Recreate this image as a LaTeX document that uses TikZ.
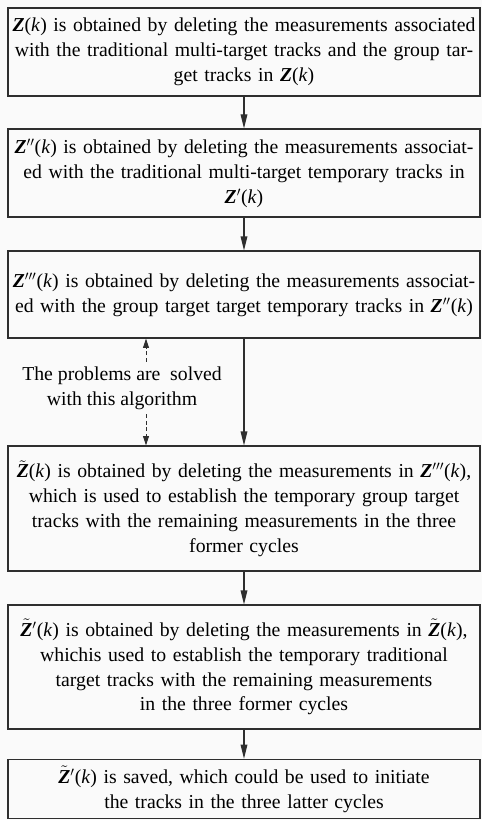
\documentclass[tikz,border=0pt]{standalone}
\usepackage{fontspec}
\setmainfont{Liberation Serif}
\usetikzlibrary{arrows.meta, positioning}
\definecolor{fcline}{HTML}{2E2E2E}
\definecolor{fcpaper}{HTML}{FAFAFA}
\newcommand{\Zb}{\textbf{\textit{Z}}}
\newcommand{\Zt}{\ensuremath{\tilde{\mbox{\Zb}}}}
\newcommand{\kk}{(\textit{k})}

\begin{document}
\begin{tikzpicture}[x=.75pt, y=-.75pt, font=\fontsize{14.8}{18.7}\selectfont,
          box/.style={draw=fcline, line width=.9pt, align=center, text width=352pt, inner xsep=1pt, inner ysep=0pt},
          flow/.style={draw=fcline, line width=.9pt, -{Triangle[length=10.5pt, width=5pt]}},
          hint/.style={draw=fcline, line width=.7pt, dash pattern=on 3pt off 2pt, -{Triangle[length=7pt, width=4.5pt]}}]
          \fill[fcpaper] (0,0) rectangle (482,820);
          \useasboundingbox (0,0) rectangle (482,820);
          \node[box, minimum height=66pt] (b1) at (244,52) {\Zb\kk{} is obtained by deleting the measurements associated\\with the traditional multi-target tracks and the group tar-\\get tracks in \Zb\kk};
          \node[box, minimum height=66pt] (b2) at (244,173) {\Zb$''$\kk{} is obtained by deleting the measurements associat-\\ed with the traditional multi-target temporary tracks in\\\Zb$'$\kk};
          \node[box, minimum height=65.25pt] (b3) at (244,294.5) {\Zb$'''$\kk{} is obtained by deleting the measurements associat-\\ed with the group target target temporary tracks in \Zb$''$\kk};
          \node[box, minimum height=93.75pt] (b4) at (244,508.5) {\Zt\kk{} is obtained by deleting the measurements in \Zb$'''$\kk,\\which is used to establish the temporary group target\\tracks with the remaining measurements in the three\\former cycles};
          \node[box, minimum height=93pt] (b5) at (244,667) {\Zt$'$\kk{} is obtained by deleting the measurements in \Zt\kk,\\whichis used to establish the temporary traditional\\target tracks with the remaining measurements\\in the three former cycles};
          \node[box, minimum height=44.6pt] (b6) at (244,789) {\Zt$'$\kk{} is saved, which could be used to initiate\\the tracks in the three latter cycles};
          \foreach \i [evaluate=\i as \j using int(\i+1)] in {1,...,5} \draw[flow] (b\i)--(b\j);
          \node[align=center] (lbl) at (122,388) {The problems are~ solved\\with this algorithm};
          \draw[hint] ([xshift=18pt]lbl.north)--([xshift=18pt]lbl.north |- b3.south);
          \draw[hint] ([xshift=18pt]lbl.south)--([xshift=18pt]lbl.south |- b4.north);
        \end{tikzpicture}
\end{document}
